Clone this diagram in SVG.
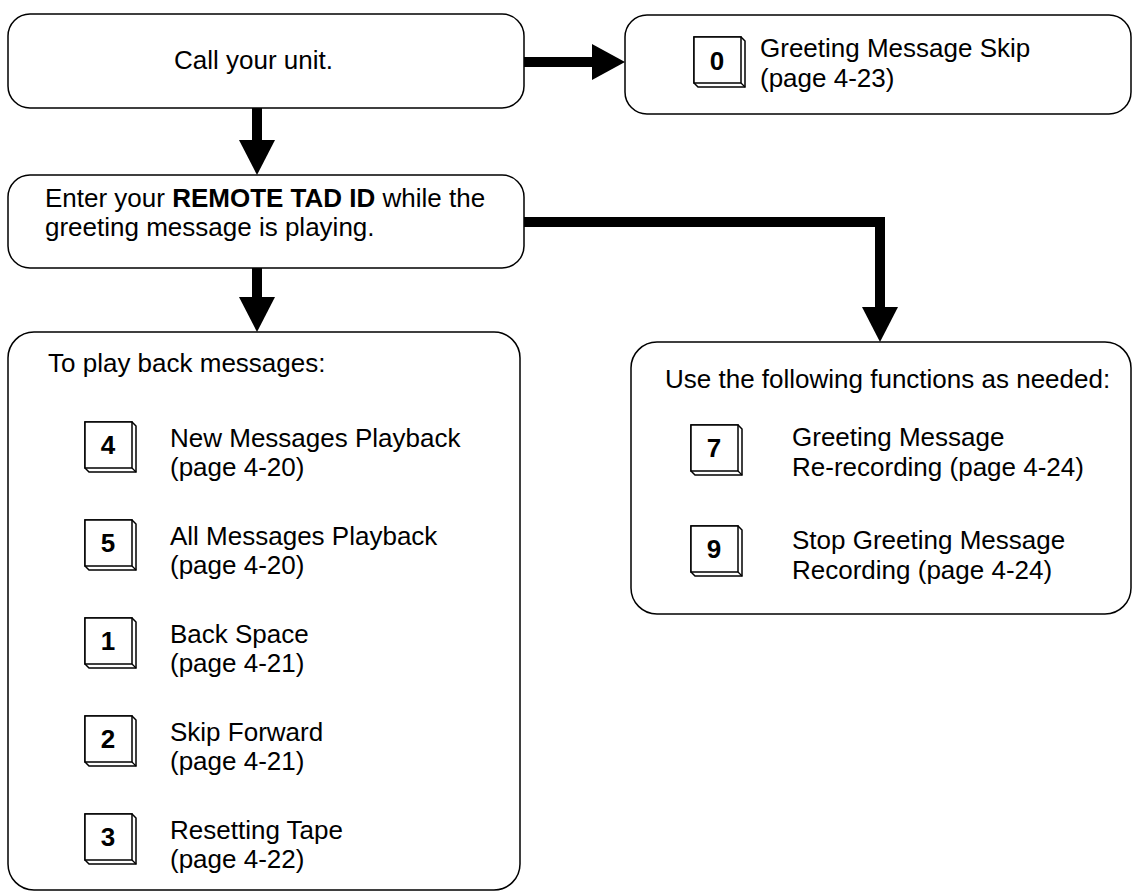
<svg xmlns="http://www.w3.org/2000/svg" width="1134" height="895" viewBox="0 0 1134 895">
<style>
.box{fill:#fff;stroke:#000;stroke-width:1.5}
.t{font-family:"Liberation Sans",Arial,sans-serif;font-size:26px;fill:#000}
.k{font-family:"Liberation Sans",Arial,sans-serif;font-size:26px;font-weight:bold;fill:#000;text-anchor:middle}
.key{fill:#fff;stroke:#000;stroke-width:1.5}
.ar{fill:#000}
</style>
<defs>
<g id="keyshape">
<path class="key" d="M0,0 H47 L51,4 V50 H4 L0,46 Z"/>
<path class="key" d="M0,0 H47 V46 H0 Z"/>
<path d="M47,46 L51,50" stroke="#000" stroke-width="1.2"/>
</g>
</defs>
<rect width="1134" height="895" fill="#fff"/>
<g id="connectors">
<path class="ar" d="M524,57 H595 V67 H524 Z"/>
<path class="ar" d="M592,44 L625,62 L592,80 Z"/>
<path class="ar" d="M252,108 H262 V142 H252 Z"/>
<path class="ar" d="M239,140 H275 L257,175 Z"/>
<path class="ar" d="M252,268 H262 V299 H252 Z"/>
<path class="ar" d="M239,297 H275 L257,332 Z"/>
<path class="ar" d="M524,217 H885 V309 H875 V227 H524 Z"/>
<path class="ar" d="M862,307 H898 L880,342 Z"/>
</g>
<g id="call">
<rect class="box" x="8" y="14" width="516" height="94" rx="22"/>
<text class="t" x="174" y="69">Call your unit.</text>
</g>
<g id="skip">
<rect class="box" x="625" y="15" width="506" height="99" rx="22"/>
<use href="#keyshape" x="694" y="37"/>
<text class="k" x="717" y="70">0</text>
<text class="t" x="760" y="57">Greeting Message Skip</text>
<text class="t" x="760" y="87">(page 4-23)</text>
</g>
<g id="enter">
<rect class="box" x="8" y="175" width="516" height="93" rx="22"/>
<text class="t" x="45" y="207">Enter your <tspan font-weight="bold">REMOTE TAD ID</tspan> while the</text>
<text class="t" x="45" y="236">greeting message is playing.</text>
</g>
<g id="playback">
<rect class="box" x="8" y="332" width="512" height="558" rx="26"/>
<text class="t" x="48" y="372">To play back messages:</text>
<use href="#keyshape" x="85" y="422"/>
<text class="k" x="108" y="454">4</text>
<text class="t" x="170" y="447">New Messages Playback</text>
<text class="t" x="170" y="476">(page 4-20)</text>
<use href="#keyshape" x="85" y="520"/>
<text class="k" x="108" y="552">5</text>
<text class="t" x="170" y="545">All Messages Playback</text>
<text class="t" x="170" y="574">(page 4-20)</text>
<use href="#keyshape" x="85" y="618"/>
<text class="k" x="108" y="650">1</text>
<text class="t" x="170" y="643">Back Space</text>
<text class="t" x="170" y="672">(page 4-21)</text>
<use href="#keyshape" x="85" y="716"/>
<text class="k" x="108" y="748">2</text>
<text class="t" x="170" y="741">Skip Forward</text>
<text class="t" x="170" y="770">(page 4-21)</text>
<use href="#keyshape" x="85" y="814"/>
<text class="k" x="108" y="846">3</text>
<text class="t" x="170" y="839">Resetting Tape</text>
<text class="t" x="170" y="868">(page 4-22)</text>
</g>
<g id="functions">
<rect class="box" x="631" y="342" width="500" height="272" rx="26"/>
<text class="t" x="665" y="388">Use the following functions as needed:</text>
<use href="#keyshape" x="691" y="425"/>
<text class="k" x="714" y="457">7</text>
<text class="t" x="792" y="446">Greeting Message</text>
<text class="t" x="792" y="476">Re-recording (page 4-24)</text>
<use href="#keyshape" x="691" y="526"/>
<text class="k" x="714" y="558">9</text>
<text class="t" x="792" y="549">Stop Greeting Message</text>
<text class="t" x="792" y="579">Recording (page 4-24)</text>
</g>
</svg>
